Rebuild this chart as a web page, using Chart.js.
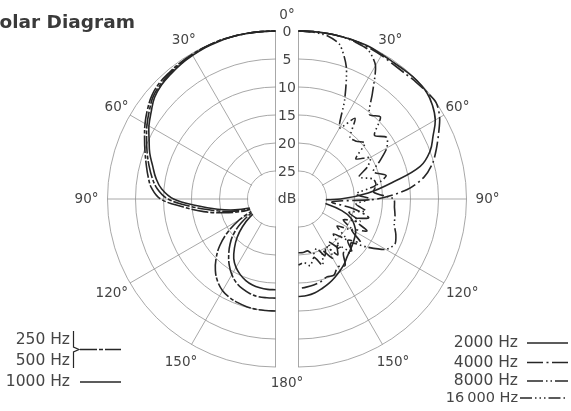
<!DOCTYPE html>
<html>
<head>
<meta charset="utf-8">
<script src="https://cdn.jsdelivr.net/npm/chart.js@4.4.1/dist/chart.umd.min.js"></script>
<style>
  html, body { margin: 0; padding: 0; background: #fff; }
  #wrap { width: 571px; height: 411px; }
</style>
</head>
<body>
<div id="wrap"><canvas id="polar" width="571" height="411"></canvas></div>
<script>
// radar categories: the full circle in 5 degree steps
const circle = [0, 5, 10, 15, 20, 25, 30, 35, 40, 45, 50, 55, 60, 65, 70, 75, 80, 85,
  90, 95, 100, 105, 110, 115, 120, 125, 130, 135, 140, 145, 150, 155, 160, 165, 170, 175,
  180, 185, 190, 195, 200, 205, 210, 215, 220, 225, 230, 235, 240, 245, 250, 255, 260, 265,
  270, 275, 280, 285, 290, 295, 300, 305, 310, 315, 320, 325, 330, 335, 340, 345, 350, 355];
const angleTicks = [0, 30, 60, 90, 120, 150, 180];
const dbTicks = [0, 5, 10, 15, 20, 25];
const dbUnit = "dB";
const title = "Polar Diagram";

// each half: 0deg (front) .. 180deg (back), 5deg steps, dB below on-axis
// left half
const hz250 = [0, 0, 0, 0, 0, 0.1, 0.2, 0.3, 0.5, 0.7, 1.2, 2.1, 3.1, 4.2, 5.2, 6.1, 6.9, 7.8,
  9.5, 13.5, 17, 20.5, 23.5, 25.5, 22.5, 19.5, 17, 15, 13.3, 12, 11.1, 10.6, 10.3, 10.1, 10, 10, 10];
const hz500 = [0, 0, 0, 0, 0, 0.1, 0.3, 0.5, 0.7, 1.0, 1.5, 2.5, 3.5, 4.6, 5.6, 6.6, 7.6, 8.8,
  10.8, 14.8, 18.5, 21.5, 24.5, 26.5, 25, 22.5, 20.2, 18.5, 17, 15.6, 14.4, 13.5, 12.9, 12.5, 12.3, 12.3, 12.3];
const hz1000 = [0, 0, 0, 0, 0.1, 0.2, 0.4, 0.6, 0.9, 1.2, 1.8, 2.9, 3.9, 5.1, 6.1, 7.3, 8.3, 9.6,
  11.8, 16, 19.5, 22.5, 25.5, 27.5, 27, 24.5, 22.3, 20.3, 18.6, 17, 15.9, 15.1, 14.5, 14.1, 13.9, 13.8, 13.8];
// right half
const hz2000 = [0, 0, 0, 0, 0, 0, 0.2, 0.3, 0.2, 0.1, 0.2, 0.8, 1.8, 3.5, 5, 7.5, 13, 17.5,
  22.5, 27.5, 25, 22, 20, 19, 18.2, 17.8, 17.4, 17, 16.5, 15.8, 15.2, 14.6, 14, 13.5, 13, 12.7, 12.6];
const hz4000 = [0, 0, 0, 0, 0, 0.2, 0.4, 0.6, 0.6, 0.4, 0.2, 0, 0.9, 2.4, 3.8, 5.2, 7.2, 10.5,
  16, 24, 20, 17, 19.5, 16.5, 19, 16.5, 18.5, 16.5, 17.5, 15.5, 16, 15, 15.2, 14.7, 14.4, 14.2, 14];
const hz8000 = [0, 0, 0, 0, 0.2, 0.6, 2.5, 7, 10.3, 9.3, 12.3, 10.8, 11.8, 14, 15.8, 13.8, 15.8, 16.5,
  13, 12.8, 12.5, 12.3, 11.5, 11, 12, 15, 17.8, 16.8, 19.2, 17.8, 20.2, 18.8, 20.6, 19.8, 20.6, 20.4, 20.4];
const hz16000 = [0, 0.1, 0.4, 1.5, 5, 10.5, 15.3, 12.4, 15.7, 15.4, 14.5, 17.5, 15.2, 16.4, 18.5, 16.2, 16, 19.7,
  17.2, 19.7, 17.8, 20.7, 18.3, 21.2, 18.8, 21.6, 18.8, 21.2, 18.3, 20.6, 17.8, 19.7, 17.4, 19.2, 17.9, 18.6, 18.2];

const ink = "#262626";
const gridInk = "#929292";
const textInk = "#454545";
const gap = 11.5; // half width of the centre strip

function leftSide(values) {
  const out = circle.map(() => null);
  values.forEach((v, k) => { out[(circle.length - k) % circle.length] = v; });
  return out;
}
function rightSide(values) {
  const out = circle.map(() => null);
  values.forEach((v, k) => { out[k] = v; });
  return out;
}
function curve(label, values, side, dash, tension) {
  return {
    label,
    data: side === "left" ? leftSide(values) : rightSide(values),
    rAxisID: side === "left" ? "rl" : "rr",
    borderColor: ink,
    borderWidth: 1.6,
    borderDash: dash,
    fill: false,
    spanGaps: false,
    pointRadius: 0,
    tension: tension,
  };
}

// radial scale that only paints its own half of the circle
class HalfRadialScale extends Chart.RadialLinearScale {
  static id = "halfRadial";
  draw(area) {
    const ctx = this.ctx;
    ctx.save();
    ctx.beginPath();
    if (this.id === "rl") ctx.rect(0, 0, Math.floor(this.xCenter) + 1, this.chart.height);
    else ctx.rect(Math.floor(this.xCenter), 0, this.chart.width, this.chart.height);
    ctx.clip();
    super.draw(area);
    ctx.restore();
  }
}
Chart.register(HalfRadialScale);

function halfScale() {
  return {
    type: "halfRadial",
    min: 0,
    max: 30,
    reverse: true,
    ticks: { display: false, stepSize: 5 },
    pointLabels: { display: false },
    grid: { circular: true, color: gridInk, lineWidth: 0.8 },
    angleLines: { color: gridInk, lineWidth: (c) => (c.index % 6 === 0 ? 0.8 : 0) },
  };
}

// move the two half diagrams apart, one each side of the strip
const split = {
  id: "split",
  afterLayout(chart) {
    const a = chart.chartArea;
    const cx = (a.left + a.right) / 2;
    const cy = (a.top + a.bottom) / 2;
    const r = Math.min(a.right - a.left, a.bottom - a.top) / 2;
    chart.scales.rl.xCenter = cx - gap;
    chart.scales.rr.xCenter = cx + gap;
    chart.scales.rl.yCenter = chart.scales.rr.yCenter = cy;
    chart.scales.rl.drawingArea = chart.scales.rr.drawingArea = r;
  },
};

const decor = {
  id: "decor",
  afterDatasetsDraw(chart) {
    const ctx = chart.ctx;
    const L = chart.scales.rl, R = chart.scales.rr;
    const mid = (L.xCenter + R.xCenter) / 2;
    const cy = L.yCenter;
    const rad = L.drawingArea;
    const ds = chart.data.datasets;
    ctx.save();

    // centre strip and hub
    ctx.fillStyle = "#fff";
    ctx.fillRect(Math.ceil(L.xCenter), 0, Math.floor(R.xCenter) - Math.ceil(L.xCenter), chart.height);
    const hub = L.getDistanceFromCenterForValue(25) - 0.7;
    ctx.beginPath(); ctx.arc(L.xCenter, cy, hub, Math.PI / 2, Math.PI * 1.5); ctx.fill();
    ctx.beginPath(); ctx.arc(R.xCenter, cy, hub, -Math.PI / 2, Math.PI / 2); ctx.fill();

    // dB scale in the strip
    ctx.fillStyle = textInk;
    ctx.textAlign = "center";
    ctx.textBaseline = "middle";
    ctx.font = "14px 'DejaVu Sans'";
    dbTicks.forEach((d) => ctx.fillText(String(d), mid, cy - L.getDistanceFromCenterForValue(d) + 1));
    ctx.fillText(dbUnit, mid, cy);

    // angle labels
    ctx.font = "13.5px 'DejaVu Sans'";
    angleTicks.forEach((a) => {
      const txt = a + "\u00b0";
      if (a === 0 || a === 180) {
        ctx.fillText(txt, mid, cy + (a === 0 ? -1 : 1) * (rad + 16));
        return;
      }
      const pad = a <= 60 ? 15.5 : 21;
      const pr = R.getPointPosition(circle.indexOf(a), rad + pad);
      const pl = L.getPointPosition(circle.indexOf(360 - a), rad + pad);
      ctx.fillText(txt, pr.x, pr.y);
      ctx.fillText(txt, pl.x, pl.y);
    });

    // title, cut at the left edge like the scan
    ctx.fillStyle = "#3a3a3a";
    ctx.font = "bold 18.5px 'DejaVu Sans'";
    ctx.textAlign = "left";
    ctx.textBaseline = "alphabetic";
    ctx.fillText(title, -ctx.measureText("P").width - 0.5, 28);

    // keys
    function key(ds, x0, x1, y) {
      ctx.save();
      ctx.strokeStyle = ink;
      ctx.lineWidth = 1.3;
      ctx.setLineDash(ds.borderDash || []);
      ctx.beginPath(); ctx.moveTo(x0, y); ctx.lineTo(x1, y); ctx.stroke();
      ctx.restore();
    }
    ctx.fillStyle = textInk;
    ctx.textAlign = "right";
    ctx.textBaseline = "middle";
    ctx.font = "15.5px 'DejaVu Sans'";
    ctx.fillText(ds[0].label, 70, 339.5);
    ctx.fillText(ds[1].label, 70, 360.5);
    ctx.fillText(ds[2].label, 70, 382);
    // brace joining 250 and 500 Hz
    ctx.strokeStyle = ink;
    ctx.lineWidth = 1.2;
    ctx.beginPath();
    ctx.moveTo(73.5, 331); ctx.lineTo(73.5, 347); ctx.lineTo(79, 349.5);
    ctx.lineTo(73.5, 352); ctx.lineTo(73.5, 368);
    ctx.stroke();
    key(ds[0], 80, 121, 349.5);
    key(ds[2], 80, 121, 382);

    ctx.fillText(ds[3].label, 518, 343);
    ctx.fillText(ds[4].label, 518, 362.5);
    ctx.fillText(ds[5].label, 518, 381);
    ctx.font = "14.5px 'DejaVu Sans'";
    ctx.fillText(ds[6].label, 518, 398);
    key(ds[3], 527, 568, 343);
    key(ds[4], 527, 568, 362.5);
    key(ds[5], 527, 568, 381);
    key(ds[6], 520, 567, 398);
    ctx.restore();
  },
};

new Chart(document.getElementById("polar"), {
  type: "radar",
  data: {
    labels: circle,
    datasets: [
      curve("250 Hz", hz250, "left", [17, 2, 4, 2], 0.4),
      curve("500 Hz", hz500, "left", [17, 2, 4, 2], 0.4),
      curve("1000 Hz", hz1000, "left", [], 0.4),
      curve("2000 Hz", hz2000, "right", [], 0.4),
      curve("4000 Hz", hz4000, "right", [16, 3.5, 2, 3.5], 0.3),
      curve("8000 Hz", hz8000, "right", [16, 3, 1.5, 3, 1.5, 3], 0.25),
      curve("16\u202f000 Hz", hz16000, "right", [12, 3, 1.5, 3, 1.5, 3, 1.5, 3], 0.25),
    ],
  },
  options: {
    responsive: false,
    animation: false,
    events: [],
    layout: { padding: { left: 119, right: 116, top: 31, bottom: 44 } },
    scales: { rl: halfScale(), rr: halfScale() },
    plugins: { legend: { display: false }, tooltip: { enabled: false } },
  },
  plugins: [split, decor],
});
</script>
</body>
</html>
